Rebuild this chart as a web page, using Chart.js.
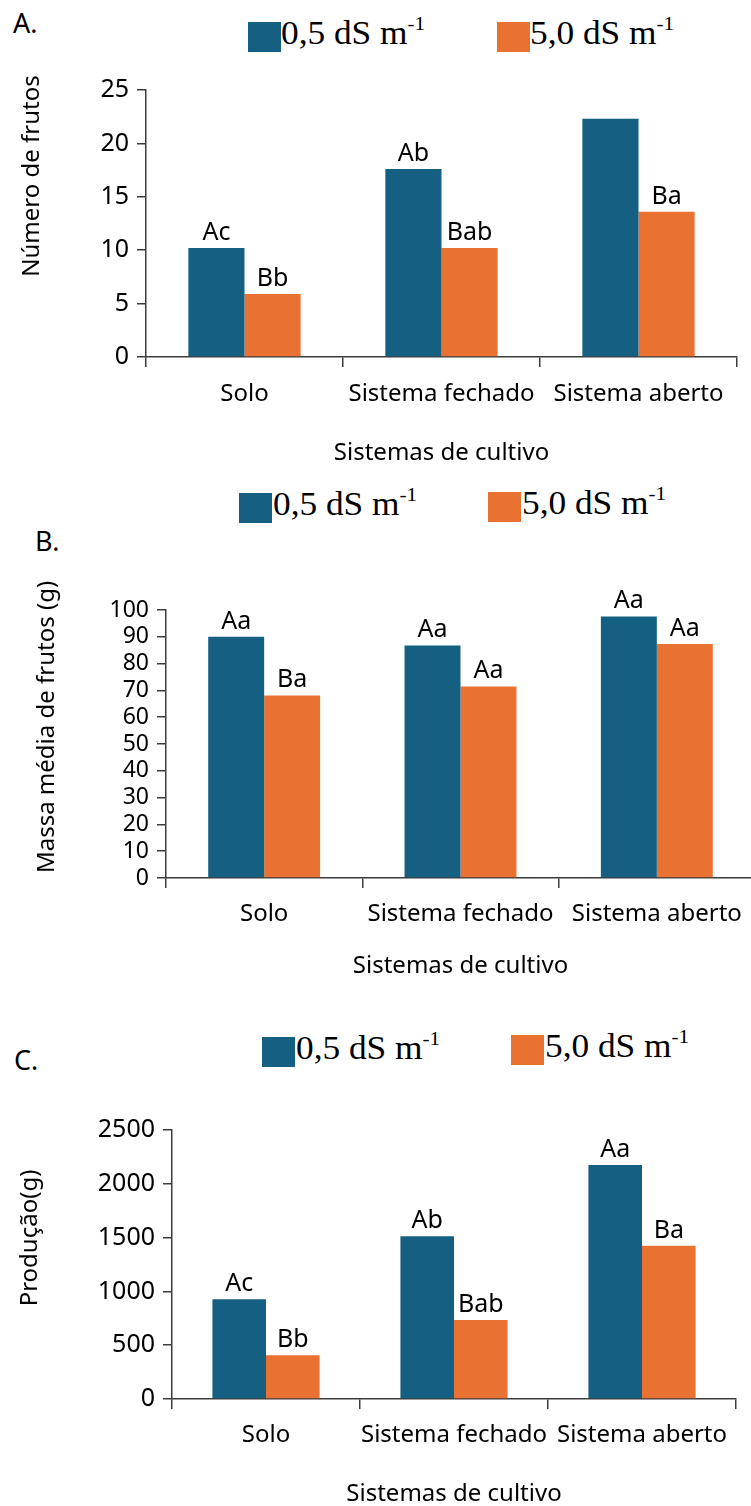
<!DOCTYPE html>
<html lang="pt">
<head>
<meta charset="utf-8">
<title>Sistemas de cultivo</title>
<script src="https://cdn.jsdelivr.net/npm/chart.js@4.4.0/dist/chart.umd.min.js"></script>
<style>
  html, body { margin: 0; padding: 0; background: #fff; overflow: hidden; }
  #page { position: relative; width: 751px; height: 1506px; overflow: hidden; }
  canvas { position: absolute; left: 0; }
  .panel-tag { position: absolute; font: 27px "Noto Sans"; line-height: 27px; color: #000; }
  .lg-box { position: absolute; width: 33px; height: 30px; }
  .lg-text { position: absolute; font: 33px "Liberation Serif"; line-height: 33px; color: #000;
             white-space: nowrap; transform: scaleX(1.07); transform-origin: left top; }
  .lg-text sup { font-size: 0.6em; position: relative; top: -0.72em; vertical-align: baseline; }
</style>
</head>
<body>
<div id="page">
  <!-- A -->
  <div class="panel-tag" style="left:13px; top:9px">A.</div>
  <div class="lg-box" style="left:248px; top:22px; background:#156082"></div>
  <div class="lg-text" style="left:281px; top:17px">0,5 dS m<sup>-1</sup></div>
  <div class="lg-box" style="left:497px; top:22px; background:#E97132"></div>
  <div class="lg-text" style="left:530px; top:17px">5,0 dS m<sup>-1</sup></div>
  <canvas id="chartA" width="751" height="420" style="top:60px"></canvas>

  <!-- B -->
  <div class="panel-tag" style="left:35px; top:527px">B.</div>
  <div class="lg-box" style="left:239px; top:493px; background:#156082"></div>
  <div class="lg-text" style="left:273px; top:488px">0,5 dS m<sup>-1</sup></div>
  <div class="lg-box" style="left:488px; top:492px; background:#E97132"></div>
  <div class="lg-text" style="left:522px; top:487px">5,0 dS m<sup>-1</sup></div>
  <canvas id="chartB" width="760" height="420" style="top:570px"></canvas>

  <!-- C -->
  <div class="panel-tag" style="left:14px; top:1046px">C.</div>
  <div class="lg-box" style="left:262px; top:1037px; background:#156082"></div>
  <div class="lg-text" style="left:296px; top:1032px">0,5 dS m<sup>-1</sup></div>
  <div class="lg-box" style="left:511px; top:1035px; background:#E97132"></div>
  <div class="lg-text" style="left:545px; top:1030px">5,0 dS m<sup>-1</sup></div>
  <canvas id="chartC" width="751" height="420" style="top:1100px"></canvas>
</div>

<script>
// === DATA ===
const categories = ['Solo', 'Sistema fechado', 'Sistema aberto'];
const seriesNames = ['0,5 dS m⁻¹', '5,0 dS m⁻¹'];

// A. Número de frutos
const frutosLow = [10.2, 17.6, 22.3];
const frutosHigh = [5.9, 10.2, 13.6];
const frutosLettersLow = ['Ac', 'Ab', ''];
const frutosLettersHigh = ['Bb', 'Bab', 'Ba'];
const frutosTicks = [0, 5, 10, 15, 20, 25];

// B. Massa média de frutos (g)
const massaLow = [90.0, 86.8, 97.6];
const massaHigh = [68.1, 71.5, 87.3];
const massaLettersLow = ['Aa', 'Aa', 'Aa'];
const massaLettersHigh = ['Ba', 'Aa', 'Aa'];
const massaTicks = [0, 10, 20, 30, 40, 50, 60, 70, 80, 90, 100];

// C. Produção (g)
const producaoLow = [927, 1512, 2175];
const producaoHigh = [406, 734, 1425];
const producaoLettersLow = ['Ac', 'Ab', 'Aa'];
const producaoLettersHigh = ['Bb', 'Bab', 'Ba'];
const producaoTicks = [0, 500, 1000, 1500, 2000, 2500];

const BLUE = '#156082';
const ORANGE = '#E97132';
const AXIS = '#3c3c3c';
const FONT = '"Noto Sans"';

// letras de significância em cima das barras
function letterPlugin(letters) {
  return {
    id: 'barLetters',
    afterDatasetsDraw(chart) {
      const ctx = chart.ctx;
      ctx.save();
      ctx.font = '25px ' + FONT;
      ctx.fillStyle = '#000';
      ctx.textAlign = 'center';
      ctx.textBaseline = 'alphabetic';
      letters.forEach((row, i) => {
        chart.getDatasetMeta(i).data.forEach((bar, j) => {
          if (row[j]) ctx.fillText(row[j], bar.x, bar.y - 8);
        });
      });
      ctx.restore();
    }
  };
}

// título do eixo y (fica mais alto que o centro do eixo no original)
function yTitlePlugin(text, x, y) {
  return {
    id: 'yTitle',
    afterDraw(chart) {
      const ctx = chart.ctx;
      ctx.save();
      ctx.translate(x, y);
      ctx.rotate(-Math.PI / 2);
      ctx.font = '24px ' + FONT;
      ctx.fillStyle = '#000';
      ctx.textAlign = 'center';
      ctx.textBaseline = 'middle';
      ctx.fillText(text, 0, 0);
      ctx.restore();
    }
  };
}

function makeChart(id, p) {
  const tickVals = p.ticks;
  return new Chart(document.getElementById(id), {
    type: 'bar',
    data: {
      labels: categories,
      datasets: [
        { label: seriesNames[0], data: p.low, backgroundColor: BLUE, borderWidth: 0 },
        { label: seriesNames[1], data: p.high, backgroundColor: ORANGE, borderWidth: 0 }
      ]
    },
    options: {
      responsive: false,
      animation: false,
      events: [],
      layout: { padding: { top: p.padTop, right: p.padRight, left: 0, bottom: 0 } },
      datasets: { bar: { categoryPercentage: 0.57, barPercentage: 1.0 } },
      plugins: { legend: { display: false }, tooltip: { enabled: false } },
      scales: {
        x: {
          grid: { display: true, drawOnChartArea: false, drawTicks: true, tickLength: 10,
                  color: AXIS, lineWidth: 1.5, offset: true },
          border: { color: AXIS, width: 1.5 },
          ticks: { font: { family: FONT, size: 24 }, color: '#000', padding: p.xPad,
                   maxRotation: 0, autoSkip: false },
          title: { display: true, text: 'Sistemas de cultivo', color: '#000',
                   font: { family: FONT, size: 24 }, padding: { top: 0, bottom: p.titlePad } },
          afterFit(s) { s.height = p.xHeight; }
        },
        y: {
          min: 0,
          max: tickVals[tickVals.length - 1],
          afterBuildTicks(s) { s.ticks = tickVals.map(v => ({ value: v })); },
          grid: { drawOnChartArea: false, drawTicks: true, tickLength: 9, color: AXIS, lineWidth: 1.5 },
          border: { color: AXIS, width: 1.5 },
          ticks: { font: { family: FONT, size: p.tickSize }, color: '#000', padding: 8,
                   autoSkip: false, callback: v => String(v) },
          afterFit(s) { s.width = p.yWidth; }
        }
      }
    },
    plugins: [letterPlugin(p.letters), yTitlePlugin(p.yTitle, p.yTitleX, p.yTitleY)]
  });
}

document.fonts.load('24px "Noto Sans"').then(() => {

  // === A. NÚMERO DE FRUTOS ===
  makeChart('chartA', {
    low: frutosLow, high: frutosHigh, ticks: frutosTicks,
    letters: [frutosLettersLow, frutosLettersHigh],
    padTop: 30, padRight: 14, yWidth: 146, xHeight: 123, xPad: 13, titlePad: 12,
    tickSize: 25, yTitle: 'Número de frutos', yTitleX: 32, yTitleY: 116
  });

  // === B. MASSA MÉDIA ===
  makeChart('chartB', {
    low: massaLow, high: massaHigh, ticks: massaTicks,
    letters: [massaLettersLow, massaLettersHigh],
    padTop: 40, padRight: 5, yWidth: 166, xHeight: 112, xPad: 12, titlePad: 9,
    tickSize: 23, yTitle: 'Massa média de frutos (g)', yTitleX: 47, yTitleY: 157
  });

  // === C. PRODUÇÃO ===
  makeChart('chartC', {
    low: producaoLow, high: producaoHigh, ticks: producaoTicks,
    letters: [producaoLettersLow, producaoLettersHigh],
    padTop: 30, padRight: 15, yWidth: 172, xHeight: 121, xPad: 12, titlePad: 11,
    tickSize: 25, yTitle: 'Produção(g)', yTitleX: 30, yTitleY: 138
  });

});
</script>
</body>
</html>
